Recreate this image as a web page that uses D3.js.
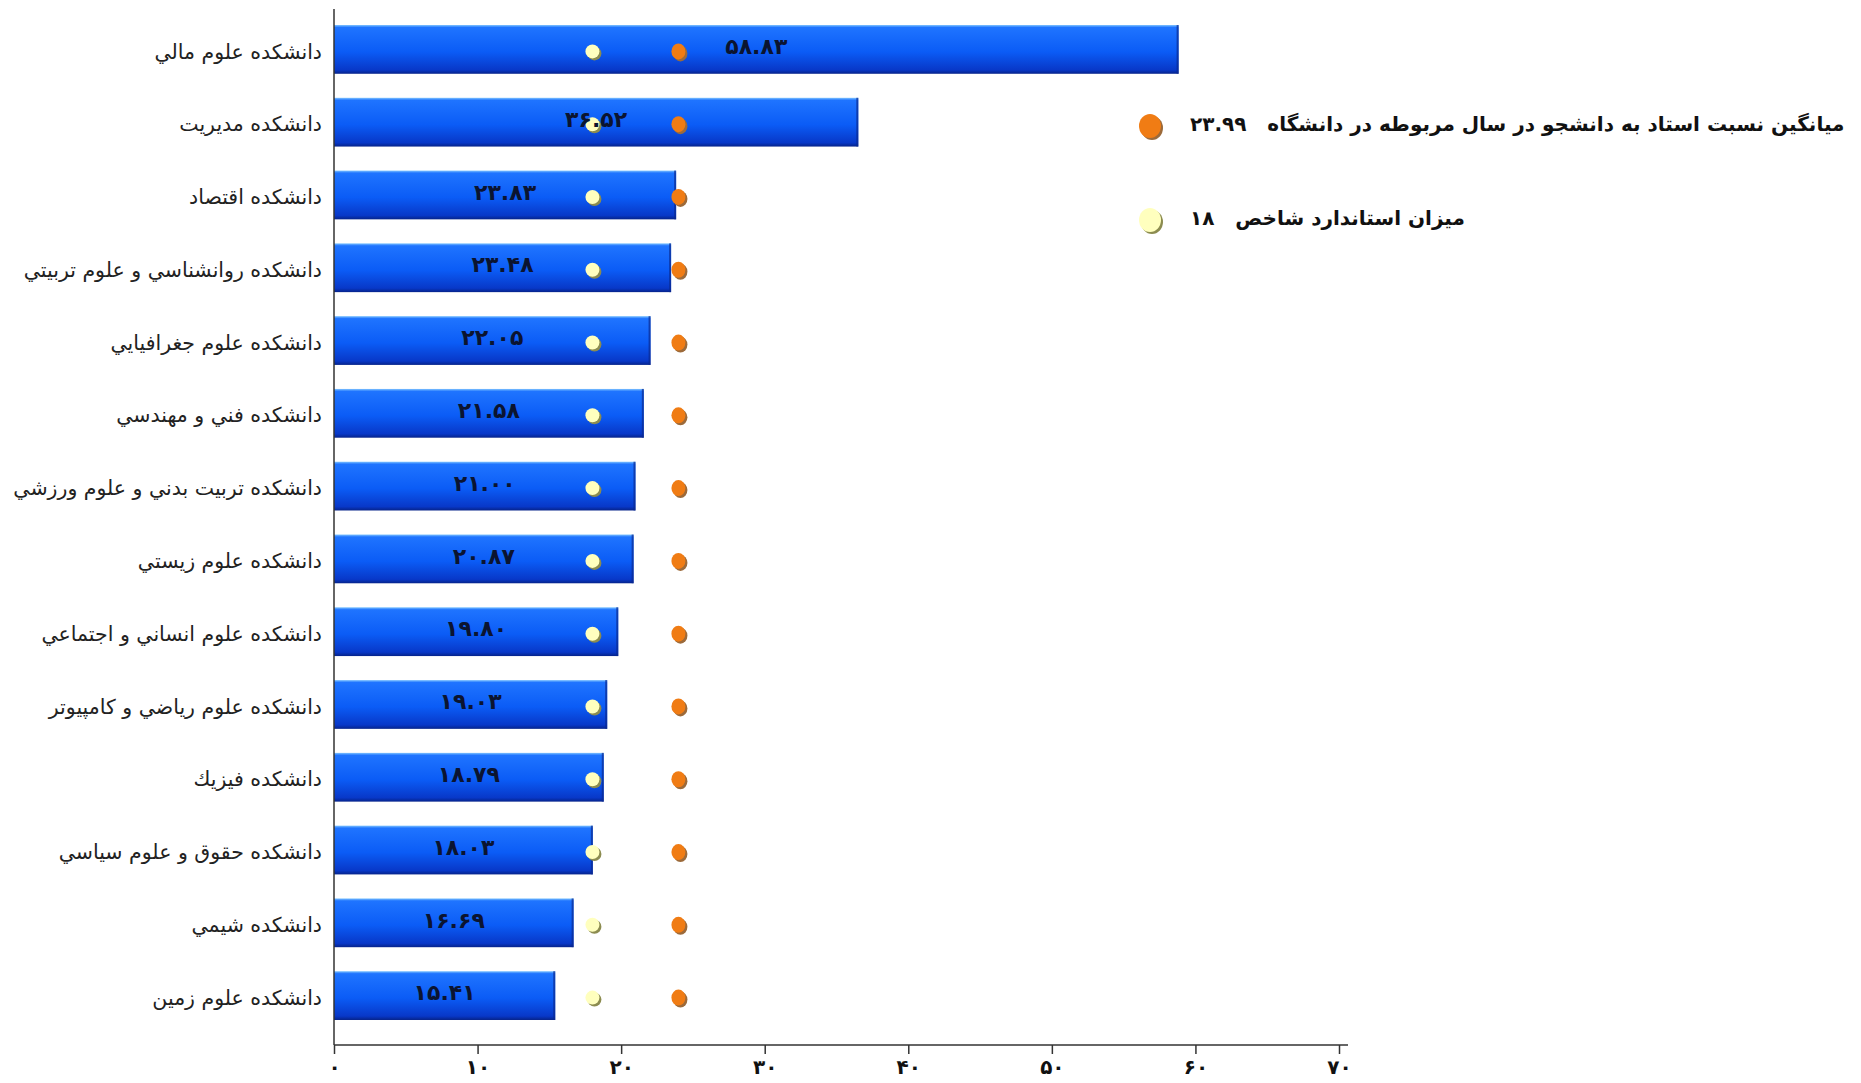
<!DOCTYPE html>
<html>
<head>
<meta charset="utf-8">
<script src="https://cdn.jsdelivr.net/npm/d3@7"></script>
<style>
  body { margin: 0; background: #fff; }
  svg { display: block; }
</style>
</head>
<body>
<svg id="chart"></svg>
<script>
// Data
const faculties = [
  'دانشکده علوم مالي',
  'دانشکده مديريت',
  'دانشکده اقتصاد',
  'دانشکده روانشناسي و علوم تربيتي',
  'دانشکده علوم جغرافيايي',
  'دانشکده فني و مهندسي',
  'دانشکده تربيت بدني و علوم ورزشي',
  'دانشکده علوم زيستي',
  'دانشکده علوم انساني و اجتماعي',
  'دانشکده علوم رياضي و کامپيوتر',
  'دانشکده فيزيك',
  'دانشکده حقوق و علوم سياسي',
  'دانشکده شيمي',
  'دانشکده علوم زمين'
];
const ratios = [58.83, 36.52, 23.83, 23.48, 22.05, 21.58, 21.00, 20.87, 19.80, 19.03, 18.79, 18.03, 16.69, 15.41];
const ratioLabels = ['58.83', '36.52', '23.83', '23.48', '22.05', '21.58', '21.00', '20.87', '19.80', '19.03', '18.79', '18.03', '16.69', '15.41'];
const universityMean = 23.99;
const standardValue = 18;
const xTicks = [0, 10, 20, 30, 40, 50, 60, 70];
const legendItems = [
  { text: 'میانگین نسبت استاد به دانشجو در سال مربوطه در دانشگاه', value: '23.99', kind: 'mean' },
  { text: 'میزان استاندارد شاخص', value: '18', kind: 'standard' }
];

const faDigits = '۰۱۲۳۴۵۶۷۸۹';
const toFa = s => String(s).replace(/[0-9]/g, d => faDigits[+d]);

// Set up the chart dimensions
const W = 1861, H = 1083;
const svg = d3.select('#chart').attr('width', W).attr('height', H);
const font = 'DejaVu Sans, Noto Sans, sans-serif';

// Gradients
const defs = svg.append('defs');
const barGrad = defs.append('linearGradient').attr('id', 'barGrad')
  .attr('x1', 0).attr('y1', 0).attr('x2', 0).attr('y2', 1);
barGrad.append('stop').attr('offset', '0%').attr('stop-color', '#7fc4ff');
barGrad.append('stop').attr('offset', '5%').attr('stop-color', '#1f74ff');
barGrad.append('stop').attr('offset', '55%').attr('stop-color', '#0b5cf6');
barGrad.append('stop').attr('offset', '92%').attr('stop-color', '#0838c8');
barGrad.append('stop').attr('offset', '100%').attr('stop-color', '#06238a');

const dotColors = {
  mean: { fill: '#f07c14', shadow: '#9c6a3a' },
  standard: { fill: '#ffffbe', shadow: '#8c8c50' }
};

// Scales
const x = d3.scaleLinear().domain([0, 70]).range([334, 1339]);
const y = d3.scaleBand().domain(faculties).range([13, 1032]).paddingInner(0.33).paddingOuter(0.165);

// Bars
const rows = svg.append('g').selectAll('g')
  .data(faculties.map((f, i) => ({ name: f, value: ratios[i], label: ratioLabels[i] })))
  .enter().append('g');

rows.append('rect')
  .attr('x', x(0))
  .attr('y', d => y(d.name))
  .attr('width', d => x(d.value) - x(0))
  .attr('height', y.bandwidth())
  .attr('fill', 'url(#barGrad)');

rows.append('rect')
  .attr('x', d => x(d.value) - 2)
  .attr('y', d => y(d.name))
  .attr('width', 2)
  .attr('height', y.bandwidth())
  .attr('fill', '#0a2a90')
  .attr('opacity', 0.7);

// Dots
function dot(g, cx, cy, kind, rx, ry) {
  g.append('ellipse')
    .attr('cx', cx + 2).attr('cy', cy + 2).attr('rx', rx).attr('ry', ry)
    .attr('fill', dotColors[kind].shadow);
  g.append('ellipse')
    .attr('cx', cx).attr('cy', cy).attr('rx', rx).attr('ry', ry)
    .attr('fill', dotColors[kind].fill);
}

rows.each(function (d) {
  const g = d3.select(this);
  const cy = y(d.name) + y.bandwidth() / 2 + 2;
  dot(g, x(standardValue), cy, 'standard', 7, 7);
  dot(g, x(universityMean), cy, 'mean', 7, 8);
});

// Value labels
rows.append('text')
  .attr('x', d => (x(0) + x(d.value)) / 2)
  .attr('y', d => y(d.name) + y.bandwidth() / 2 - 3)
  .attr('dy', '0.35em')
  .attr('text-anchor', 'middle')
  .style('font-family', font)
  .style('font-weight', 'bold')
  .style('font-size', '22px')
  .attr('fill', '#0b1430')
  .text(d => toFa(d.label));

// Category labels
rows.append('text')
  .attr('x', 322)
  .attr('y', d => y(d.name) + y.bandwidth() / 2 + 2)
  .attr('dy', '0.35em')
  .attr('text-anchor', 'end')
  .style('font-family', font)
  .style('font-size', '20.5px')
  .attr('fill', '#222')
  .text(d => d.name);

// Axes
const xAxis = d3.axisBottom(x)
  .tickValues(xTicks)
  .tickSize(9)
  .tickPadding(6)
  .tickFormat(d => toFa(d));

const axisG = svg.append('g')
  .attr('transform', 'translate(0,1045)')
  .call(xAxis);
axisG.select('.domain').remove();
axisG.selectAll('.tick line').attr('stroke', '#333').attr('stroke-width', 1.5);
axisG.selectAll('.tick text')
  .style('font-family', font)
  .style('font-weight', 'bold')
  .style('font-size', '20px')
  .attr('fill', '#111');

svg.append('line')
  .attr('x1', x(0)).attr('x2', 1348)
  .attr('y1', 1045).attr('y2', 1045)
  .attr('stroke', '#333').attr('stroke-width', 1.5);

svg.append('line')
  .attr('x1', x(0)).attr('x2', x(0))
  .attr('y1', 9).attr('y2', 1045)
  .attr('stroke', '#333').attr('stroke-width', 1.5);

// Legend
const legend = svg.append('g').attr('id', 'legend');
legendItems.forEach((item, i) => {
  const cy = 126 + i * 94;
  const g = legend.append('g');
  dot(g, 1150, cy, item.kind, 11, 12);
  g.append('text')
    .attr('x', 1190)
    .attr('y', cy - 2)
    .attr('dy', '0.35em')
    .attr('text-anchor', 'start')
    .style('font-family', font)
    .style('font-weight', 'bold')
    .style('font-size', '20px')
    .attr('fill', '#111')
    .attr('xml:space', 'preserve')
    .text(item.text + '   ' + toFa(item.value));
});
</script>
</body>
</html>
